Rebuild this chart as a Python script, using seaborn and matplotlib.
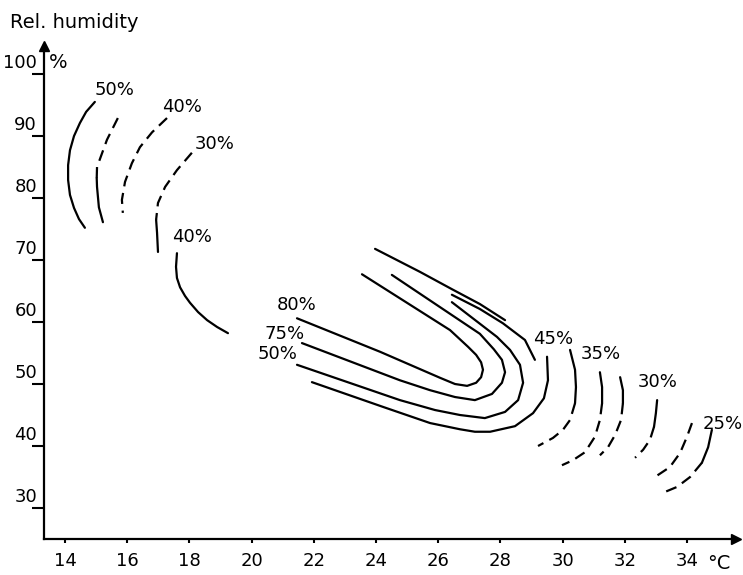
import matplotlib
matplotlib.use("Agg")
import matplotlib.pyplot as plt
import matplotlib.transforms as mtransforms
import seaborn as sns

# temperature (degC) / rel. humidity (%)
# left group
a_t = [14.96, 14.68, 14.48, 14.29, 14.16, 14.10, 14.10, 14.16, 14.29, 14.45, 14.64]
a_rh = [95.5, 93.9, 92.1, 90.0, 87.7, 85.3, 82.9, 80.5, 78.4, 76.6, 75.2]
b_t = [15.70, 15.35, 15.03, 15.02, 15.03, 15.09, 15.22]
b_rh = [92.9, 89.4, 85.0, 83.2, 81.8, 78.5, 76.1]
c_t = [17.28, 16.80, 16.41, 16.15, 15.93, 15.83, 15.86]
c_rh = [92.9, 90.6, 88.2, 85.6, 82.6, 79.7, 77.6]
d_t = [18.08, 17.60, 17.22, 16.99, 16.93, 16.96, 16.99]
d_rh = [87.3, 84.5, 81.8, 79.2, 76.5, 74.4, 71.3]
e_t = [17.60, 17.57, 17.60, 17.70, 17.86, 18.02, 18.28, 18.57, 18.89, 19.24]
e_rh = [71.1, 68.9, 67.1, 65.6, 64.2, 63.1, 61.6, 60.3, 59.2, 58.2]

# U shaped curves in the middle
u80_t = [21.46, 24.13, 26.06, 26.54, 26.93, 27.22, 27.38, 27.44, 27.38, 27.22, 26.96, 26.38, 23.55]
u80_rh = [60.6, 55.2, 51.0, 50.0, 49.7, 50.2, 51.1, 52.3, 53.5, 54.7, 56.0, 58.7, 67.7]
u75_t = [21.62, 24.77, 25.74, 26.54, 27.18, 27.73, 28.05, 28.15, 28.05, 27.79, 27.34, 24.51]
u75_rh = [56.6, 50.6, 49.0, 47.9, 47.4, 48.4, 50.2, 51.9, 53.9, 55.6, 58.1, 67.6]
u50_t = [21.46, 24.77, 25.90, 26.70, 27.50, 28.15, 28.57, 28.73, 28.63, 28.31, 27.89, 26.44]
u50_rh = [53.1, 47.4, 45.8, 45.0, 44.5, 45.5, 47.4, 50.2, 53.1, 55.5, 57.6, 63.2]
u45_t = [21.94, 24.23, 25.74, 26.70, 27.18, 27.67, 28.47, 29.05, 29.40, 29.53, 29.50]
u45_rh = [50.3, 46.3, 43.7, 42.7, 42.3, 42.3, 43.2, 45.3, 47.7, 50.6, 54.4]
top_t = [23.97, 25.41, 26.44, 27.34, 28.15]
top_rh = [71.8, 68.1, 65.3, 62.9, 60.3]
s_t = [26.44, 27.34, 28.08, 28.79, 29.11]
s_rh = [64.4, 62.1, 59.8, 57.1, 53.9]

# right group
f_t = [30.24, 30.40, 30.43, 30.40, 30.24, 30.01, 29.69, 29.21]
f_rh = [55.5, 52.3, 49.5, 46.9, 44.2, 42.6, 41.3, 40.0]
g_t = [31.20, 31.27, 31.27, 31.20, 31.04, 30.72, 30.33, 29.98]
g_rh = [51.9, 49.5, 46.9, 44.2, 41.5, 39.0, 37.7, 36.9]
h_t = [31.85, 31.94, 31.94, 31.88, 31.69, 31.46, 31.20]
h_rh = [51.1, 49.0, 46.9, 44.2, 41.8, 39.8, 38.5]
i_t = [33.04, 33.00, 32.94, 32.81, 32.59, 32.33]
i_rh = [47.4, 45.3, 43.1, 41.0, 39.4, 38.1]
j_t = [34.16, 34.00, 33.78, 33.45, 32.91]
j_rh = [43.7, 41.5, 38.9, 36.6, 34.8]
k_t = [34.80, 34.68, 34.48, 34.10, 33.68, 33.20]
k_rh = [42.6, 39.8, 37.3, 35.0, 33.4, 32.4]

labels = ["50%", "40%", "30%", "40%", "80%", "75%", "50%", "45%", "35%", "30%", "25%"]
lab_t = [15.58, 17.76, 18.82, 18.08, 21.46, 21.07, 20.82, 29.69, 31.23, 33.07, 35.16]
lab_rh = [97.4, 94.7, 88.7, 73.7, 62.7, 58.1, 54.8, 57.3, 54.8, 50.3, 43.5]

x_ticks = list(range(14, 35, 2))
y_ticks = list(range(30, 101, 10))

sns.set_style("ticks")
plt.rcParams["font.family"] = ["DejaVu Sans"]
plt.rcParams["text.color"] = "black"
plt.rcParams["xtick.color"] = "black"
plt.rcParams["ytick.color"] = "black"

fig = plt.figure(figsize=(7.43, 5.75), dpi=100)
ax = fig.add_axes([44 / 743, 36 / 575, (736 - 44) / 743, (539 - 46) / 575])

DASH = (0, (5, 3))
# (t, rh, style, split) -> style "s" solid, "d" dashed, "ds"/"sd" switch at split
curves = [
    (a_t, a_rh, "s", None),
    (b_t, b_rh, "ds", 3),
    (c_t, c_rh, "d", None),
    (d_t, d_rh, "ds", 4),
    (e_t, e_rh, "s", None),
    (u80_t, u80_rh, "s", None),
    (u75_t, u75_rh, "s", None),
    (u50_t, u50_rh, "s", None),
    (u45_t, u45_rh, "s", None),
    (top_t, top_rh, "s", None),
    (s_t, s_rh, "s", None),
    (f_t, f_rh, "sd", 3),
    (g_t, g_rh, "sd", 2),
    (h_t, h_rh, "sd", 2),
    (i_t, i_rh, "sd", 2),
    (j_t, j_rh, "d", None),
    (k_t, k_rh, "sd", 2),
]


def seg(t, rh, ls):
    sns.lineplot(x=t, y=rh, sort=False, estimator=None, color="black",
                 lw=1.6, linestyle=ls, ax=ax)


for t, rh, style, k in curves:
    if style == "s":
        seg(t, rh, "-")
    elif style == "d":
        seg(t, rh, DASH)
    elif style == "ds":
        seg(t[:k + 1], rh[:k + 1], DASH)
        seg(t[k:], rh[k:], "-")
    else:
        seg(t[:k + 1], rh[:k + 1], "-")
        seg(t[k:], rh[k:], DASH)

for txt, x, y in zip(labels, lab_t, lab_rh):
    ax.text(x, y, txt, fontsize=13, ha="center", va="center")

ax.set_xlim(13.325, 35.576)
ax.set_ylim(25.0, 104.52)
ax.set_xticks(x_ticks)
ax.set_yticks(y_ticks)
ax.set_xlabel("")
ax.set_ylabel("")
ax.tick_params(axis="x", direction="out", bottom=True, length=3, width=1.5, pad=6,
               labelsize=13)
ax.tick_params(axis="y", direction="out", left=True, length=8.6, width=1.5, pad=-3.6,
               labelsize=13)
for lab in ax.get_yticklabels():
    lab.set_va("baseline")
    lab.set_transform(lab.get_transform() +
                      mtransforms.ScaledTranslation(0, 6 / 100, fig.dpi_scale_trans))

sns.despine(ax=ax)
for side in ["left", "bottom"]:
    ax.spines[side].set_linewidth(1.6)
    ax.spines[side].set_color("black")

# axis arrows
ax.plot(1, 0, ">", color="black", ms=7, transform=ax.transAxes, clip_on=False)
ax.plot(0, 1, "^", color="black", ms=7, transform=ax.transAxes, clip_on=False)

ax.text(13.77, 101.9, "%", fontsize=14, ha="center", va="center")
ax.text(35.03, 21.1, "°C", fontsize=14, ha="center", va="center")
fig.text(10 / 743, 1 - 22 / 575, "Rel. humidity", fontsize=14, ha="left", va="center")

fig.savefig("out.png", dpi=100, facecolor="white")
